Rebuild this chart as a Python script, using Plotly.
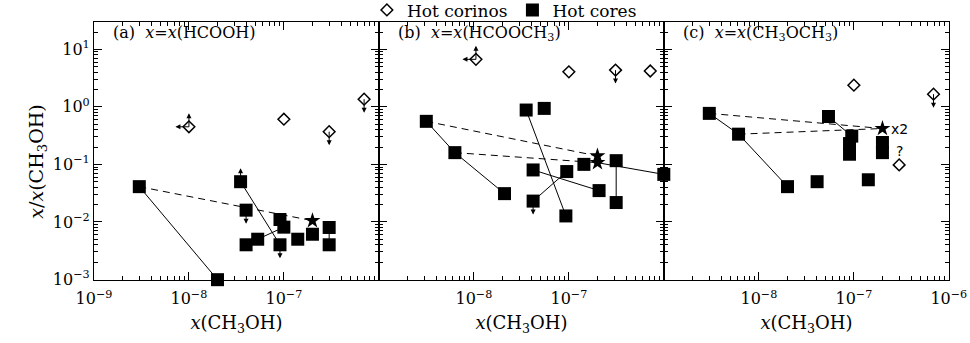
import numpy as np
import plotly.graph_objects as go
from plotly.subplots import make_subplots

# ---- panel (a): x = x(HCOOH)
a_cor_x = [1.0e-8, 1.0e-7, 3.0e-7, 7.0e-7]
a_cor_y = [0.45, 0.61, 0.37, 1.36]
a_cor_arr = ["lu", "", "d", "d"]
a_core_x = [3.0e-9, 2.0e-8, 3.5e-8, 4.0e-8, 4.0e-8, 5.3e-8, 9.1e-8, 1.0e-7, 9.1e-8, 1.4e-7, 2.0e-7, 3.0e-7, 3.0e-7]
a_core_y = [0.041, 0.00099, 0.050, 0.016, 0.0040, 0.0050, 0.011, 0.0081, 0.0040, 0.0050, 0.0061, 0.0080, 0.0040]
a_core_arr = ["", "", "u", "d", "", "", "", "", "d", "", "", "", ""]
a_star_x = [2.0e-7]
a_star_y = [0.0105]
a_solid = [[0, 1], [2, 8], [5, 7], [11, 12]]
a_dash = [[0, "s0"]]

# ---- panel (b): x = x(HCOOCH3)
b_cor_x = [1.05e-8, 1.0e-7, 3.1e-7, 7.2e-7]
b_cor_y = [6.7, 4.06, 4.35, 4.2]
b_cor_arr = ["lu", "", "d", ""]
b_core_x = [3.15e-9, 6.3e-9, 2.1e-8, 3.55e-8, 5.5e-8, 4.2e-8, 4.2e-8, 9.3e-8, 9.5e-8, 1.44e-7, 2.08e-7, 3.15e-7, 3.15e-7, 1.0e-6]
b_core_y = [0.56, 0.16, 0.031, 0.88, 0.94, 0.080, 0.023, 0.0127, 0.075, 0.10, 0.035, 0.116, 0.0217, 0.067]
b_core_arr = ["", "", "", "", "", "", "d", "", "", "", "", "", "", ""]
b_star_x = [2.0e-7, 2.0e-7]
b_star_y = [0.14, 0.107]
b_solid = [[0, 1, 2], [3, 7], [6, 8], [5, 10], [11, 12], ["s1", 13]]
b_dash = [[0, "s0"], [1, "s1"]]

# ---- panel (c): x = x(CH3OCH3)
c_cor_x = [1.0e-7, 6.9e-7, 3.0e-7]
c_cor_y = [2.38, 1.66, 0.098]
c_cor_arr = ["", "d", ""]
c_core_x = [3.0e-9, 6.1e-9, 2.0e-8, 4.1e-8, 5.4e-8, 9.5e-8, 9.0e-8, 9.0e-8, 1.42e-7, 2.0e-7, 2.0e-7]
c_core_y = [0.77, 0.335, 0.041, 0.050, 0.68, 0.31, 0.23, 0.15, 0.054, 0.24, 0.16]
c_core_arr = [""] * 11
c_star_x = [2.0e-7]
c_star_y = [0.42]
c_solid = [[0, 1, 2], [4, 5]]
c_dash = [[0, "s0"], [1, "s0"]]

panel_titles = ["(a)  <i>x</i>=<i>x</i>(HCOOH)",
                "(b)  <i>x</i>=<i>x</i>(HCOOCH<sub>3</sub>)",
                "(c)  <i>x</i>=<i>x</i>(CH<sub>3</sub>OCH<sub>3</sub>)"]
x_tickvals = [[1e-9, 1e-8, 1e-7], [1e-8, 1e-7], [1e-8, 1e-7, 1e-6]]
y_tickvals = [1e-3, 1e-2, 1e-1, 1, 10]

panels = [
    (a_cor_x, a_cor_y, a_cor_arr, a_core_x, a_core_y, a_core_arr, a_star_x, a_star_y, a_solid, a_dash),
    (b_cor_x, b_cor_y, b_cor_arr, b_core_x, b_core_y, b_core_arr, b_star_x, b_star_y, b_solid, b_dash),
    (c_cor_x, c_cor_y, c_cor_arr, c_core_x, c_core_y, c_core_arr, c_star_x, c_star_y, c_solid, c_dash),
]

FONT = "DejaVu Serif"


def sup(v):
    e = int(round(np.log10(v)))
    return "10<sup>%s</sup>" % (str(e).replace("-", "\u2212"))


# minor tick positions 2..9 in every decade
x_minor = [m * 10.0 ** e for e in range(-9, -6) for m in range(2, 10)]
y_minor = [m * 10.0 ** e for e in range(-4, 2) for m in range(2, 10)]

fig = make_subplots(rows=1, cols=3, horizontal_spacing=0)
annots = []

for i, (cx, cy, carr, kx, ky, karr, sx, sy, solid, dash) in enumerate(panels):
    col = i + 1

    def pt(k):
        if isinstance(k, str):
            j = int(k[1:])
            return sx[j], sy[j]
        return kx[k], ky[k]

    # connecting lines
    for segs, d in ((solid, "solid"), (dash, "7px,5px")):
        lx, ly = [], []
        for seg in segs:
            for k in seg:
                x, y = pt(k)
                lx.append(x)
                ly.append(y)
            lx.append(None)
            ly.append(None)
        fig.add_trace(go.Scatter(x=lx, y=ly, mode="lines", line=dict(color="black", width=1, dash=d),
                                 showlegend=False, hoverinfo="skip"), row=1, col=col)

    fig.add_trace(go.Scatter(x=cx, y=cy, mode="markers", name="Hot corinos", showlegend=(i == 0),
                             marker=dict(symbol="diamond-open", size=9, color="black", line=dict(width=1.5)),
                             cliponaxis=False), row=1, col=col)
    fig.add_trace(go.Scatter(x=kx, y=ky, mode="markers", name="Hot cores", showlegend=(i == 0),
                             marker=dict(symbol="square", size=13, color="black"),
                             cliponaxis=False), row=1, col=col)
    fig.add_trace(go.Scatter(x=sx, y=sy, mode="markers", showlegend=False,
                             marker=dict(symbol="star", size=12, color="black"),
                             cliponaxis=False), row=1, col=col)

    xr = "x" if i == 0 else "x%d" % col
    yr = "y" if i == 0 else "y%d" % col
    # limit arrows
    for xs, ys, arrs in ((cx, cy, carr), (kx, ky, karr)):
        for x, y, a in zip(xs, ys, arrs):
            for ch in a:
                ax, ay = {"u": (0, -15), "d": (0, 15), "l": (-15, 0)}[ch]
                annots.append(dict(x=np.log10(x), y=np.log10(y), xref=xr, yref=yr, text="", showarrow=True,
                                   ax=ax, ay=ay, arrowside="start", startarrowhead=2, startarrowsize=1,
                                   arrowwidth=1, arrowcolor="black"))
    annots.append(dict(x=0.06, y=1.005, xref=xr + " domain", yref=yr + " domain", text=panel_titles[i],
                       showarrow=False, xanchor="left", yanchor="top", font=dict(family=FONT, size=16, color="black")))

    fig.update_xaxes(row=1, col=col, type="log", range=[-9, -5.998], tickvals=x_tickvals[i],
                     ticktext=[sup(v) for v in x_tickvals[i]], minor=dict(tickvals=x_minor),
                     title=dict(text="<i>x</i>(CH<sub>3</sub>OH)", standoff=9, font=dict(family=FONT, size=18)))
    fig.update_yaxes(row=1, col=col, type="log", range=[-3.01, 1.475], tickvals=y_tickvals,
                     ticktext=[sup(v) for v in y_tickvals], showticklabels=(i == 0), minor=dict(tickvals=y_minor))

# text notes in panel (c)
annots.append(dict(x=np.log10(c_star_x[0]), y=np.log10(c_star_y[0]), xref="x3", yref="y3", text="x2",
                   showarrow=False, xanchor="left", xshift=7, font=dict(family="DejaVu Sans", size=14, color="black")))
annots.append(dict(x=np.log10(c_cor_x[2]), y=np.log10(c_cor_y[2]), xref="x3", yref="y3", text="?",
                   showarrow=False, yshift=14, font=dict(family="DejaVu Sans", size=14, color="black")))
# y axis title
annots.append(dict(x=-0.066, y=0.457, xref="paper", yref="paper", text="<i>x</i>/<i>x</i>(CH<sub>3</sub>OH)",
                   textangle=-90, showarrow=False, xanchor="center", yanchor="middle",
                   font=dict(family=FONT, size=19, color="black")))

axis_style = dict(showline=True, linecolor="black", linewidth=1.2, mirror="allticks", ticks="inside",
                  ticklen=8, tickwidth=1, tickcolor="black", showgrid=False, zeroline=False,
                  tickfont=dict(family=FONT, size=16, color="black"),
                  minor=dict(ticks="inside", ticklen=4, tickwidth=1, tickcolor="black", showgrid=False))
fig.update_xaxes(**axis_style)
fig.update_xaxes(ticklabelstandoff=4)
fig.update_yaxes(**axis_style)

fig.update_layout(
    width=970, height=343,
    margin=dict(l=94, r=21, t=22, b=63, autoexpand=False),
    plot_bgcolor="rgba(0,0,0,0)", paper_bgcolor="white",
    font=dict(family=FONT, color="black"),
    annotations=annots,
    legend=dict(orientation="h", x=0.48, xanchor="center", y=1.045, yanchor="middle",
                font=dict(family=FONT, size=17), itemwidth=30, tracegroupgap=0,
                bgcolor="rgba(0,0,0,0)"),
)

# drop the default page margin so the figure sits at the window origin
fig.write_html("out.html", config={"displayModeBar": False},
               post_script="document.body.style.margin='0px';")
